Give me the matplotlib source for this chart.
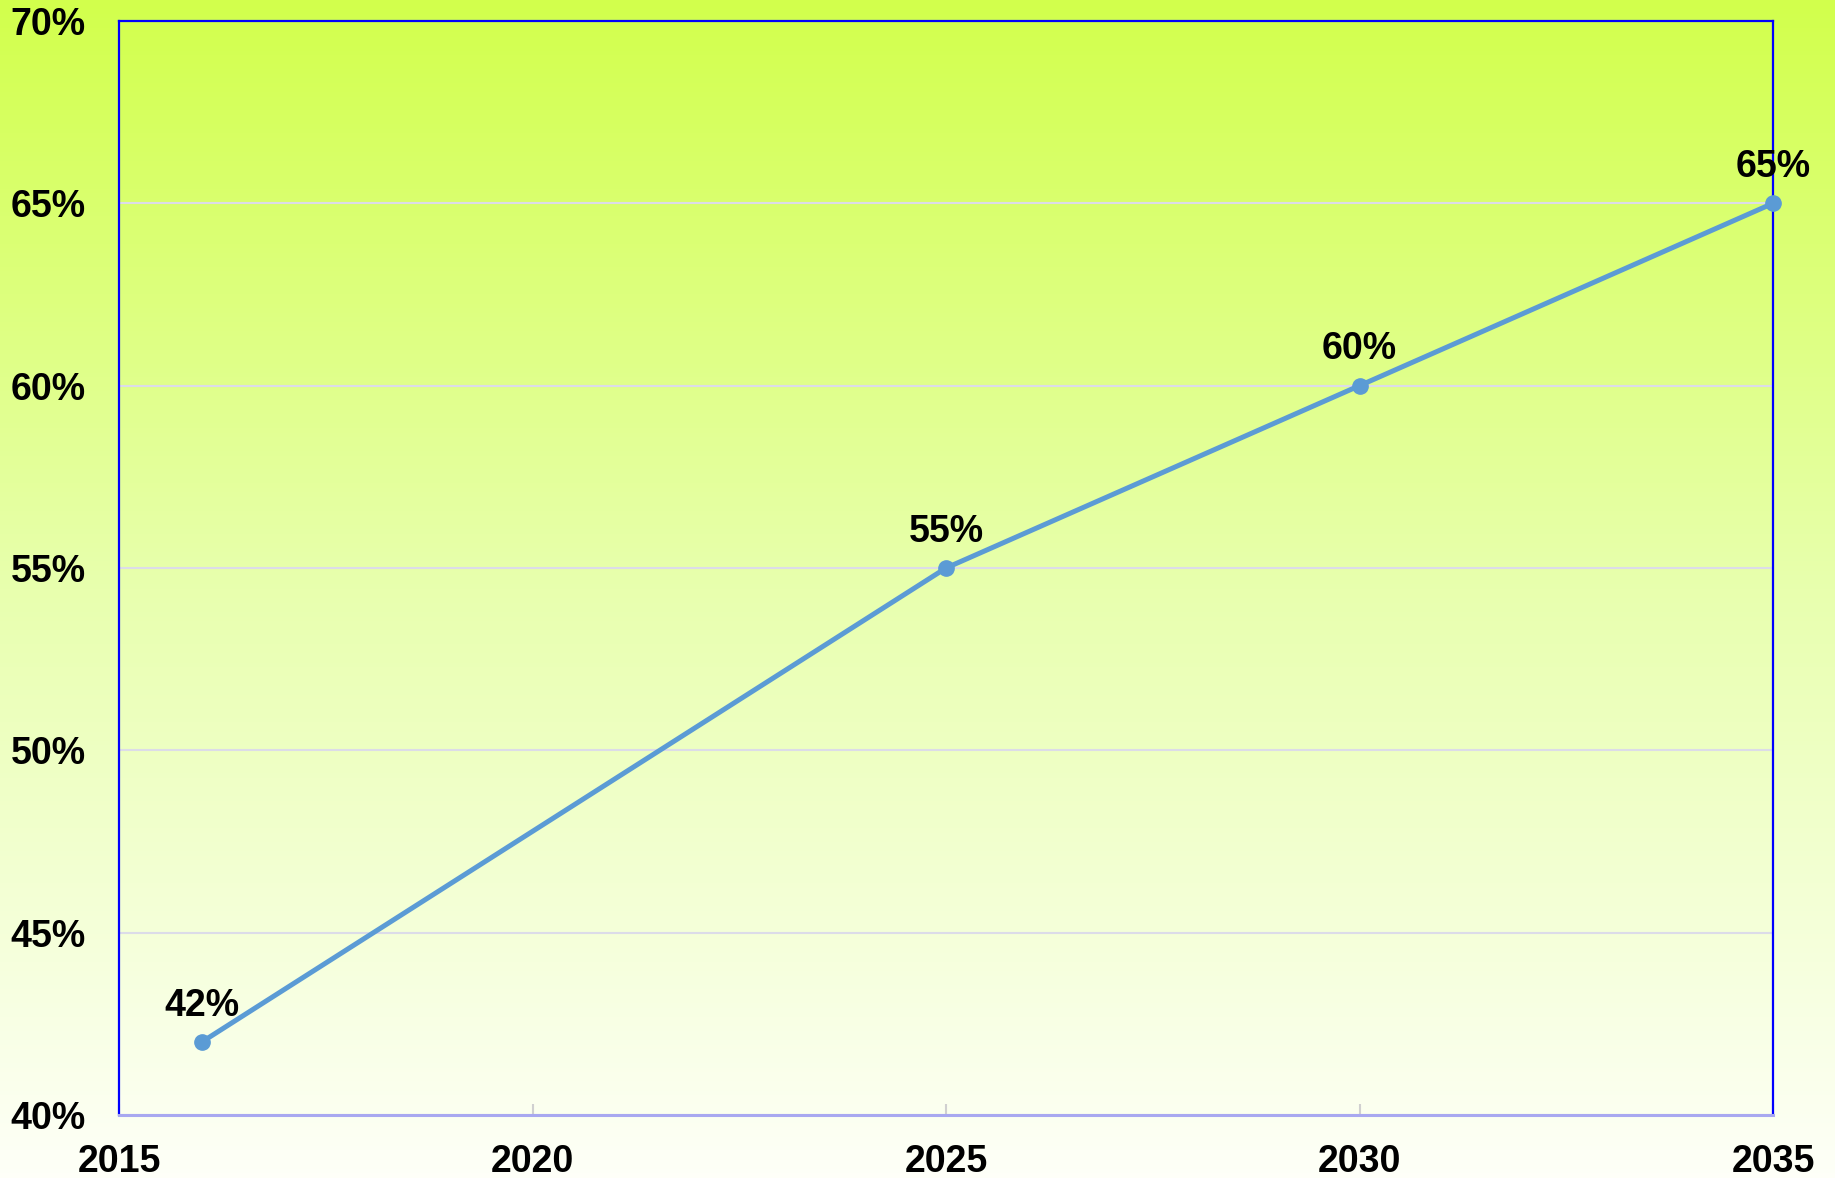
import numpy as np
import matplotlib.pyplot as plt
from matplotlib.colors import LinearSegmentedColormap

years = [2016, 2025, 2030, 2035]
shares = [42, 55, 60, 65]
x_ticks = [2015, 2020, 2025, 2030, 2035]
y_ticks = [40, 45, 50, 55, 60, 65, 70]

plt.rcParams['font.family'] = ['Liberation Sans', 'DejaVu Sans']
plt.rcParams['font.weight'] = 'bold'

fig = plt.figure(figsize=(18.35, 11.78), dpi=100)

# vertical yellow-green to white background over the whole figure
bg = fig.add_axes([0, 0, 1, 1], zorder=0)
cmap = LinearSegmentedColormap.from_list(
    'bg', [(0, '#d2ff4c'), (0.5, '#e8ffae'), (1, '#fefff8')])
bg.imshow(np.linspace(0, 1, 256).reshape(-1, 1), cmap=cmap, aspect='auto',
          extent=[0, 1, 0, 1], origin='upper')
bg.axis('off')

ax = fig.add_axes([119 / 1835, 1 - 1115 / 1178, (1773 - 119) / 1835, (1115 - 21) / 1178], zorder=1)
ax.set_facecolor('none')

ax.plot(years, shares, color='#5b9bd5', linewidth=3.6, marker='o', markersize=11,
        solid_capstyle='round', zorder=3, clip_on=False)

for x, y in zip(years, shares):
    ax.annotate(f'{y}%', (x, y), xytext=(0, 19), textcoords='offset points',
                ha='center', va='baseline', fontsize=27, fontweight='bold', zorder=4)

ax.set_xlim(2015, 2035)
ax.set_ylim(40, 70)
ax.set_xticks(x_ticks)
ax.set_yticks(y_ticks)
ax.set_yticklabels([f'{v}%' for v in y_ticks])
ax.tick_params(axis='y', length=0, pad=24, labelsize=27)
ax.tick_params(axis='x', direction='in', length=8, width=1.5, color='#d0d0d0',
               pad=21, labelsize=27)

ax.grid(axis='y', color='#dcdce8', linewidth=1.5, zorder=1)
ax.set_axisbelow(True)

for side in ['left', 'right', 'top']:
    ax.spines[side].set_color('#0000ff')
    ax.spines[side].set_linewidth(1.6)
ax.spines['bottom'].set_color('#a8a8f0')
ax.spines['bottom'].set_linewidth(2.2)

fig.savefig('out.png', dpi=100)
